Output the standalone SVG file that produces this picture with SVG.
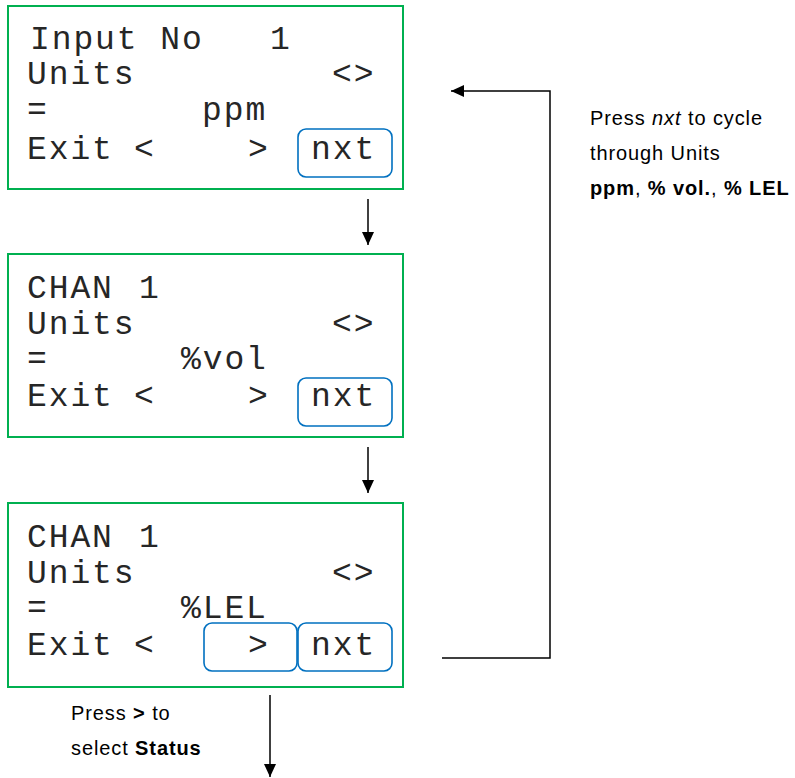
<svg xmlns="http://www.w3.org/2000/svg" width="795" height="778" viewBox="0 0 795 778">
<style>
.scr{fill:#fff;stroke:#00B050;stroke-width:2}
.btn{fill:none;stroke:#0070C0;stroke-width:1.6}
.lcd{font-family:"Liberation Mono","DejaVu Sans Mono",monospace;font-size:33px;letter-spacing:1.9px;fill:#262626}
.note{font-family:"Liberation Sans","Open Sans",sans-serif;font-size:20px;letter-spacing:0.9px;fill:#000}
.ln{fill:none;stroke:#000;stroke-width:1.5}
</style>
<defs>
<marker id="ah" markerWidth="13" markerHeight="12" refX="13" refY="6" orient="auto" markerUnits="userSpaceOnUse" viewBox="0 0 13 12">
<path d="M0,0 L13,6 L0,12 z" fill="#000"/>
</marker>
</defs>
<rect width="795" height="778" fill="#fff"/>
<g id="screen1">
<rect class="scr" x="8" y="6" width="395" height="183"/>
<rect class="btn" x="298" y="129" width="94" height="48" rx="8"/>
<text class="lcd" x="30" y="49">Input No</text>
<text class="lcd" x="270" y="49">1</text>
<text class="lcd" x="27" y="84">Units</text>
<text class="lcd" x="332" y="84">&lt;&gt;</text>
<text class="lcd" x="27" y="120">=</text>
<text class="lcd" x="202" y="120">ppm</text>
<text class="lcd" x="27" y="159">Exit</text>
<text class="lcd" x="134" y="159">&lt;</text>
<text class="lcd" x="248" y="159">&gt;</text>
<text class="lcd" x="311" y="159">nxt</text>
</g>
<g id="screen2">
<rect class="scr" x="8" y="254" width="395" height="183"/>
<rect class="btn" x="298" y="378" width="94" height="48" rx="8"/>
<text class="lcd" x="27" y="298">CHAN</text>
<text class="lcd" x="139" y="298">1</text>
<text class="lcd" x="27" y="334">Units</text>
<text class="lcd" x="332" y="334">&lt;&gt;</text>
<text class="lcd" x="27" y="369">=</text>
<text class="lcd" x="181" y="369">%vol</text>
<text class="lcd" x="27" y="406">Exit</text>
<text class="lcd" x="134" y="406">&lt;</text>
<text class="lcd" x="248" y="406">&gt;</text>
<text class="lcd" x="311" y="406">nxt</text>
</g>
<g id="screen3">
<rect class="scr" x="8" y="503" width="395" height="184"/>
<rect class="btn" x="204" y="623" width="93" height="48" rx="8"/>
<rect class="btn" x="298" y="623" width="94" height="48" rx="8"/>
<text class="lcd" x="27" y="547">CHAN</text>
<text class="lcd" x="139" y="547">1</text>
<text class="lcd" x="27" y="583">Units</text>
<text class="lcd" x="332" y="583">&lt;&gt;</text>
<text class="lcd" x="27" y="618">=</text>
<text class="lcd" x="181" y="618">%LEL</text>
<text class="lcd" x="27" y="655">Exit</text>
<text class="lcd" x="134" y="655">&lt;</text>
<text class="lcd" x="248" y="655">&gt;</text>
<text class="lcd" x="311" y="655">nxt</text>
</g>
<g id="connectors">
<line class="ln" x1="368" y1="199" x2="368" y2="245" marker-end="url(#ah)"/>
<line class="ln" x1="368" y1="447" x2="368" y2="493" marker-end="url(#ah)"/>
<polyline class="ln" points="442,658 550,658 550,91 451,91" marker-end="url(#ah)"/>
<line class="ln" x1="270" y1="695" x2="270" y2="777" marker-end="url(#ah)"/>
</g>
<g id="label-cycle">
<text class="note" x="590" y="125">Press <tspan font-style="italic">nxt</tspan> to cycle</text>
<text class="note" x="590" y="160">through Units</text>
<text class="note" x="590" y="195"><tspan font-weight="bold">ppm</tspan>, <tspan font-weight="bold">% vol.</tspan>, <tspan font-weight="bold">% LEL</tspan></text>
</g>
<g id="label-status">
<text class="note" x="71" y="720">Press <tspan font-weight="bold">&gt;</tspan> to</text>
<text class="note" x="71" y="755">select <tspan font-weight="bold">Status</tspan></text>
</g>
</svg>
